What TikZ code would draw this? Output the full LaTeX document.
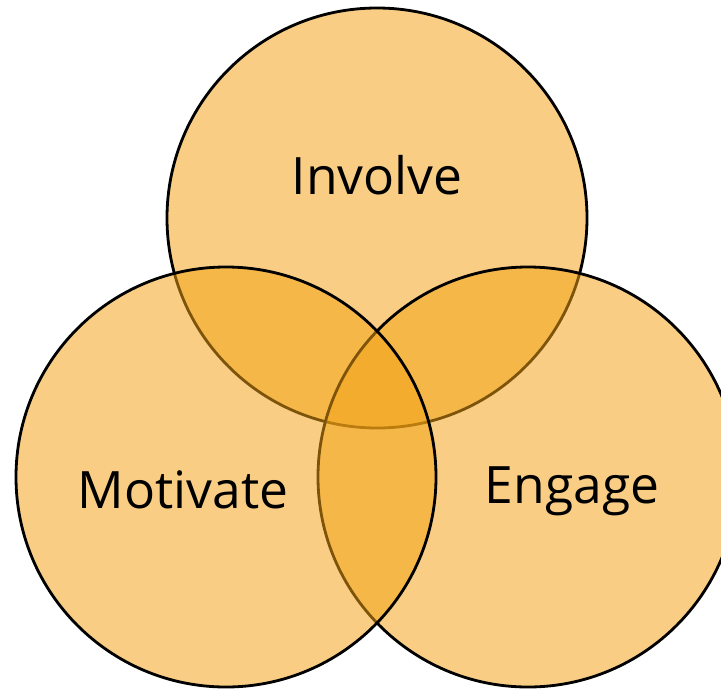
\documentclass[tikz,border=0pt]{standalone}
\usepackage{fontspec}
\setmainfont{Open Sans}
\usepackage{tikz}
\usetikzlibrary{positioning}
\definecolor{vennorange}{RGB}{243,162,20}

\begin{document}
\begin{tikzpicture}[x=0.03cm,y=-0.03cm,venn/.style={shape=circle,draw,line width=2.4pt,fill=vennorange,fill opacity=0.52,minimum size=12.6cm,inner sep=0pt},label/.style={font=\fontsize{44}{50}\selectfont,text=black}]
		\clip (0,0) rectangle (721,688);
		% create the circles
		\node[venn] (inv) at (377,218) {};
		\node[venn] (eng) at (528,477) {};
		\node[venn] (mot) at (226,477) {};
		
		% put the words in
		\node[label] (tinv) at (377,175) {Involve};
		\node[label] (tmot) at (183,490) {Motivate};
		\node[label] (teng) at (572,491) {Engage};
	\end{tikzpicture}
\end{document}
